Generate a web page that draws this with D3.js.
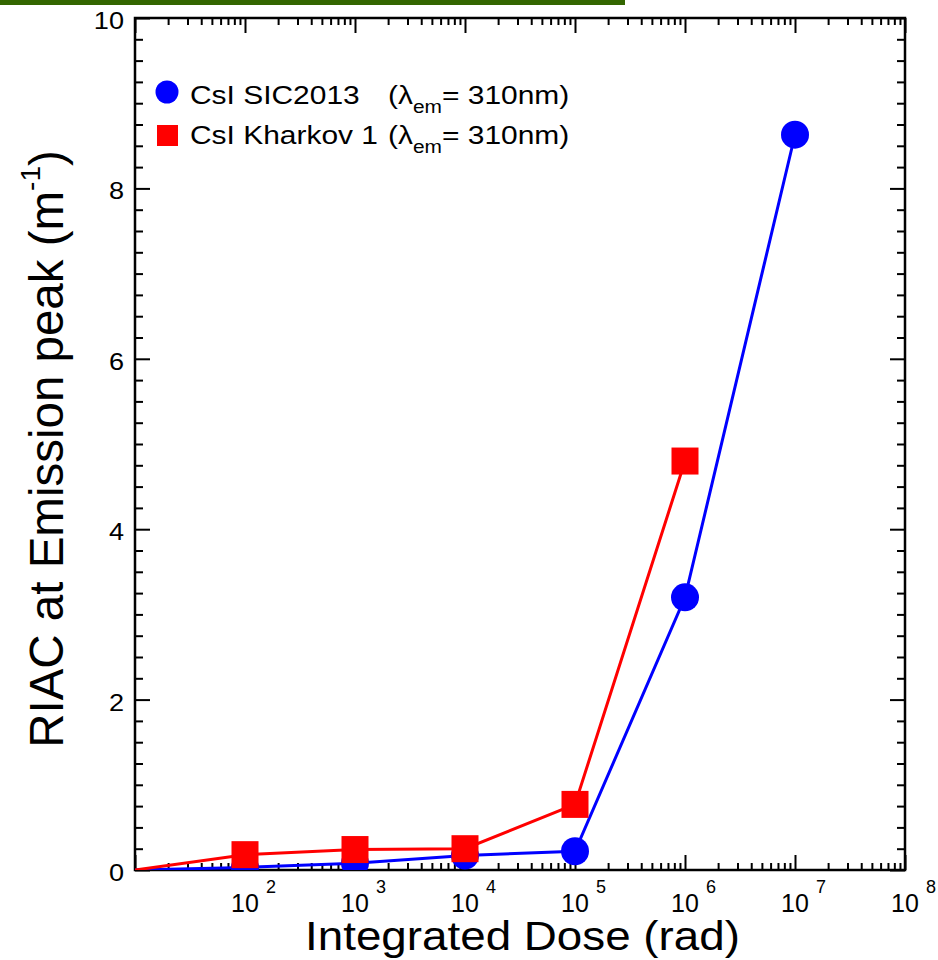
<!DOCTYPE html>
<html><head><meta charset="utf-8">
<script src="https://cdn.jsdelivr.net/npm/d3@7"></script>
<style>
html,body{margin:0;padding:0;background:#fff;}
svg text{font-family:"Liberation Sans",Arial,sans-serif;fill:#000;}
</style></head>
<body>
<svg id="chart" width="938" height="960"></svg>
<script>
// ---- data ----
const sicDose  = [10, 1e2, 1e3, 1e4, 1e5, 1e6, 1e7];
const sicRiac  = [0, 0.03, 0.08, 0.17, 0.22, 3.20, 8.63];
const khaDose  = [10, 1e2, 1e3, 1e4, 1e5, 1e6];
const khaRiac  = [0, 0.18, 0.24, 0.25, 0.77, 4.80];
const xDecadeExps = [2, 3, 4, 5, 6, 7, 8];
const yTickLabels = [0, 2, 4, 6, 8, 10];
const legendNames = ["CsI SIC2013", "CsI Kharkov 1"];
const xTitle = "Integrated Dose (rad)";
const yTitle = "RIAC at Emission peak (m";

const svg = d3.select("#chart");
const L = 135, R = 905, T = 18, B = 870;
const SX = 1.13; // horizontal stretch of the original lettering
const x = d3.scaleLog().domain([10, 1e8]).range([L, R]);
const y = d3.scaleLinear().domain([0, 10]).range([B, T]);

// green bar on top
svg.append("rect").attr("x", 0).attr("y", 0).attr("width", 625).attr("height", 5).attr("fill", "#336600");

// ticks
const majorX = d3.range(1, 9).map(e => Math.pow(10, e));
const minorX = [];
for (let e = 1; e < 8; e++) for (let m = 2; m <= 9; m++) minorX.push(m * Math.pow(10, e));
const majorY = d3.range(0, 10.01, 2);
const minorY = d3.range(0, 10.01, 0.25).filter(v => Math.abs(v / 2 - Math.round(v / 2)) > 1e-6);

function axisG(axis, tx, ty) {
  const g = svg.append("g").attr("transform", `translate(${tx},${ty})`).call(axis);
  g.select(".domain").remove();
  g.selectAll("line").attr("stroke", "#000").attr("stroke-width", 2);
  g.selectAll("text").remove();
  return g;
}
axisG(d3.axisBottom(x).tickValues(majorX).tickSize(-15).tickFormat(""), 0, B);
axisG(d3.axisBottom(x).tickValues(minorX).tickSize(-7).tickFormat(""), 0, B);
axisG(d3.axisTop(x).tickValues(majorX).tickSize(-15).tickFormat(""), 0, T);
axisG(d3.axisTop(x).tickValues(minorX).tickSize(-7).tickFormat(""), 0, T);
axisG(d3.axisLeft(y).tickValues(majorY).tickSize(-15).tickFormat(""), L, 0);
axisG(d3.axisLeft(y).tickValues(minorY).tickSize(-8).tickFormat(""), L, 0);
axisG(d3.axisRight(y).tickValues(majorY).tickSize(-15).tickFormat(""), R, 0);
axisG(d3.axisRight(y).tickValues(minorY).tickSize(-8).tickFormat(""), R, 0);

// frame
svg.append("rect").attr("x", L).attr("y", T).attr("width", R - L).attr("height", B - T)
  .attr("fill", "none").attr("stroke", "#000").attr("stroke-width", 2.5);

// y tick labels
svg.append("g").selectAll("text").data(yTickLabels).join("text")
  .attr("transform", d => `translate(${L - 11},${y(d)}) scale(${SX},1)`)
  .attr("dy", "0.46em").attr("text-anchor", "end").attr("font-size", 24).text(d => d);

// x tick labels 10^n
const xl = svg.append("g").selectAll("text").data(xDecadeExps).join("text")
  .attr("x", d => x(Math.pow(10, d)) - 13.9).attr("y", 912).attr("font-size", 25);
xl.append("tspan").text("10");
xl.append("tspan").attr("dx", 7).attr("dy", -19.5).attr("font-size", 18).text(d => d);

// axis titles
svg.append("text").attr("transform", `translate(522.5,950) scale(${SX},1)`)
  .attr("text-anchor", "middle").attr("font-size", 40.5).text(xTitle);
const yt = svg.append("text").attr("transform", "translate(63,449) rotate(-90)")
  .attr("text-anchor", "middle").attr("font-size", 47.5);
yt.append("tspan").text(yTitle);
yt.append("tspan").attr("dy", -23).attr("font-size", 28).text("-1");
yt.append("tspan").attr("dy", 23).text(")");

// series
const defs = svg.append("defs");
defs.append("clipPath").attr("id", "clip").append("rect")
  .attr("x", L).attr("y", T).attr("width", R - L).attr("height", B - T);
const plot = svg.append("g").attr("clip-path", "url(#clip)");
const line = d3.line().x(d => x(d[0])).y(d => y(d[1]));

const sic = sicDose.map((d, i) => [d, sicRiac[i]]);
const kha = khaDose.map((d, i) => [d, khaRiac[i]]);

plot.append("path").datum(sic).attr("d", line).attr("fill", "none").attr("stroke", "#0000ff").attr("stroke-width", 3);
plot.append("g").selectAll("circle").data(sic.slice(1)).join("circle")
  .attr("cx", d => x(d[0])).attr("cy", d => y(d[1])).attr("r", 14).attr("fill", "#0000ff");

plot.append("path").datum(kha).attr("d", line).attr("fill", "none").attr("stroke", "#ff0000").attr("stroke-width", 3);
plot.append("g").selectAll("rect").data(kha.slice(1)).join("rect")
  .attr("x", d => x(d[0]) - 13.5).attr("y", d => y(d[1]) - 13.5).attr("width", 27).attr("height", 27).attr("fill", "#ff0000");

// legend
const lg = svg.append("g");
lg.append("circle").attr("cx", 167).attr("cy", 92).attr("r", 11.5).attr("fill", "#0000ff");
lg.append("rect").attr("x", 157).attr("y", 125).attr("width", 21).attr("height", 21).attr("fill", "#ff0000");
legendNames.forEach((name, i) => {
  const by = 104 + i * 39.5;
  lg.append("text").attr("transform", `translate(190,${by}) scale(${SX},1)`)
    .attr("font-size", 26.5).text(name);
  const t = lg.append("text").attr("transform", `translate(388,${by}) scale(${SX},1)`)
    .attr("font-size", 26.5);
  t.append("tspan").text("(\u03bb");
  t.append("tspan").attr("dy", 9).attr("font-size", 18.5).text("em");
  t.append("tspan").attr("dy", -9).text("= 310nm)");
});
</script>
</body></html>
